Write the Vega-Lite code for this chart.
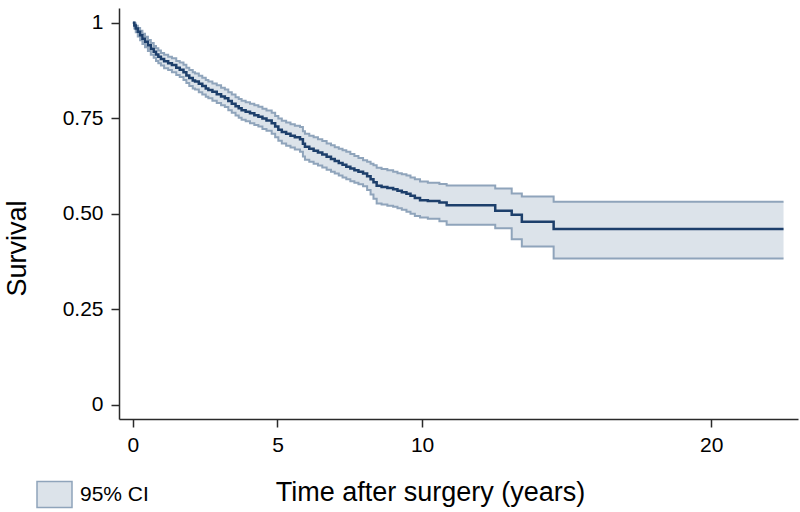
{
  "$schema": "https://vega.github.io/schema/vega-lite/v6.json",
  "width": 679,
  "height": 411,
  "autosize": "none",
  "padding": {"left": 119, "top": 8, "right": 2, "bottom": 93},
  "background": "white",
  "config": {
    "view": {"stroke": null},
    "font": "Liberation Sans",
    "axis": {
      "grid": false,
      "domainColor": "#2a2a2a",
      "domainWidth": 1.5,
      "tickColor": "#2a2a2a",
      "tickWidth": 1.5,
      "tickSize": 8,
      "labelColor": "#000000",
      "labelFont": "Liberation Sans",
      "labelFontSize": 21,
      "titleFont": "Liberation Sans",
      "titleFontSize": 27,
      "titleFontWeight": "normal",
      "titleColor": "#000000"
    }
  },
  "data": {
    "values": [
      {"t": 0.00, "s": 1.000, "lo": 1.000, "hi": 1.000},
      {"t": 0.05, "s": 0.993, "lo": 0.985, "hi": 0.998},
      {"t": 0.10, "s": 0.985, "lo": 0.975, "hi": 0.992},
      {"t": 0.17, "s": 0.976, "lo": 0.964, "hi": 0.986},
      {"t": 0.25, "s": 0.967, "lo": 0.954, "hi": 0.979},
      {"t": 0.33, "s": 0.958, "lo": 0.944, "hi": 0.971},
      {"t": 0.42, "s": 0.950, "lo": 0.936, "hi": 0.963},
      {"t": 0.52, "s": 0.941, "lo": 0.926, "hi": 0.955},
      {"t": 0.62, "s": 0.932, "lo": 0.916, "hi": 0.947},
      {"t": 0.72, "s": 0.924, "lo": 0.908, "hi": 0.939},
      {"t": 0.80, "s": 0.917, "lo": 0.900, "hi": 0.933},
      {"t": 0.88, "s": 0.911, "lo": 0.894, "hi": 0.927},
      {"t": 0.97, "s": 0.905, "lo": 0.888, "hi": 0.921},
      {"t": 1.08, "s": 0.899, "lo": 0.881, "hi": 0.916},
      {"t": 1.22, "s": 0.894, "lo": 0.876, "hi": 0.911},
      {"t": 1.35, "s": 0.889, "lo": 0.870, "hi": 0.907},
      {"t": 1.50, "s": 0.882, "lo": 0.863, "hi": 0.900},
      {"t": 1.62, "s": 0.877, "lo": 0.858, "hi": 0.896},
      {"t": 1.75, "s": 0.870, "lo": 0.850, "hi": 0.890},
      {"t": 1.85, "s": 0.862, "lo": 0.842, "hi": 0.882},
      {"t": 1.95, "s": 0.855, "lo": 0.834, "hi": 0.876},
      {"t": 2.07, "s": 0.849, "lo": 0.828, "hi": 0.870},
      {"t": 2.15, "s": 0.846, "lo": 0.825, "hi": 0.867},
      {"t": 2.28, "s": 0.840, "lo": 0.818, "hi": 0.861},
      {"t": 2.40, "s": 0.834, "lo": 0.812, "hi": 0.856},
      {"t": 2.52, "s": 0.828, "lo": 0.806, "hi": 0.850},
      {"t": 2.61, "s": 0.824, "lo": 0.802, "hi": 0.846},
      {"t": 2.75, "s": 0.819, "lo": 0.796, "hi": 0.841},
      {"t": 2.90, "s": 0.813, "lo": 0.790, "hi": 0.836},
      {"t": 3.05, "s": 0.807, "lo": 0.784, "hi": 0.830},
      {"t": 3.18, "s": 0.802, "lo": 0.779, "hi": 0.825},
      {"t": 3.30, "s": 0.795, "lo": 0.771, "hi": 0.818},
      {"t": 3.42, "s": 0.788, "lo": 0.764, "hi": 0.812},
      {"t": 3.55, "s": 0.781, "lo": 0.757, "hi": 0.805},
      {"t": 3.66, "s": 0.776, "lo": 0.751, "hi": 0.800},
      {"t": 3.76, "s": 0.771, "lo": 0.746, "hi": 0.796},
      {"t": 3.90, "s": 0.767, "lo": 0.742, "hi": 0.792},
      {"t": 4.05, "s": 0.763, "lo": 0.737, "hi": 0.788},
      {"t": 4.20, "s": 0.758, "lo": 0.732, "hi": 0.784},
      {"t": 4.34, "s": 0.754, "lo": 0.728, "hi": 0.780},
      {"t": 4.48, "s": 0.749, "lo": 0.722, "hi": 0.775},
      {"t": 4.62, "s": 0.744, "lo": 0.717, "hi": 0.770},
      {"t": 4.80, "s": 0.737, "lo": 0.709, "hi": 0.764},
      {"t": 4.92, "s": 0.728, "lo": 0.700, "hi": 0.756},
      {"t": 5.03, "s": 0.720, "lo": 0.691, "hi": 0.749},
      {"t": 5.15, "s": 0.714, "lo": 0.684, "hi": 0.743},
      {"t": 5.30, "s": 0.709, "lo": 0.678, "hi": 0.739},
      {"t": 5.45, "s": 0.704, "lo": 0.673, "hi": 0.734},
      {"t": 5.60, "s": 0.700, "lo": 0.668, "hi": 0.730},
      {"t": 5.78, "s": 0.695, "lo": 0.662, "hi": 0.727},
      {"t": 5.88, "s": 0.683, "lo": 0.650, "hi": 0.716},
      {"t": 5.95, "s": 0.675, "lo": 0.641, "hi": 0.709},
      {"t": 6.10, "s": 0.670, "lo": 0.636, "hi": 0.704},
      {"t": 6.25, "s": 0.665, "lo": 0.631, "hi": 0.700},
      {"t": 6.40, "s": 0.660, "lo": 0.626, "hi": 0.695},
      {"t": 6.55, "s": 0.655, "lo": 0.621, "hi": 0.690},
      {"t": 6.70, "s": 0.649, "lo": 0.615, "hi": 0.684},
      {"t": 6.85, "s": 0.643, "lo": 0.610, "hi": 0.679},
      {"t": 6.98, "s": 0.638, "lo": 0.605, "hi": 0.674},
      {"t": 7.12, "s": 0.633, "lo": 0.600, "hi": 0.670},
      {"t": 7.25, "s": 0.628, "lo": 0.595, "hi": 0.666},
      {"t": 7.38, "s": 0.623, "lo": 0.590, "hi": 0.662},
      {"t": 7.52, "s": 0.618, "lo": 0.585, "hi": 0.656},
      {"t": 7.66, "s": 0.614, "lo": 0.581, "hi": 0.651},
      {"t": 7.80, "s": 0.610, "lo": 0.577, "hi": 0.646},
      {"t": 7.96, "s": 0.605, "lo": 0.572, "hi": 0.640},
      {"t": 8.10, "s": 0.598, "lo": 0.562, "hi": 0.636},
      {"t": 8.22, "s": 0.590, "lo": 0.550, "hi": 0.631},
      {"t": 8.32, "s": 0.582, "lo": 0.539, "hi": 0.627},
      {"t": 8.43, "s": 0.573, "lo": 0.527, "hi": 0.620},
      {"t": 8.60, "s": 0.570, "lo": 0.524, "hi": 0.617},
      {"t": 8.80, "s": 0.567, "lo": 0.521, "hi": 0.614},
      {"t": 9.00, "s": 0.564, "lo": 0.518, "hi": 0.610},
      {"t": 9.15, "s": 0.560, "lo": 0.514, "hi": 0.606},
      {"t": 9.30, "s": 0.556, "lo": 0.510, "hi": 0.603},
      {"t": 9.46, "s": 0.552, "lo": 0.505, "hi": 0.600},
      {"t": 9.60, "s": 0.547, "lo": 0.500, "hi": 0.595},
      {"t": 9.75, "s": 0.541, "lo": 0.494, "hi": 0.590},
      {"t": 9.93, "s": 0.535, "lo": 0.490, "hi": 0.584},
      {"t": 10.20, "s": 0.533, "lo": 0.487, "hi": 0.581},
      {"t": 10.60, "s": 0.529, "lo": 0.480, "hi": 0.578},
      {"t": 10.85, "s": 0.522, "lo": 0.471, "hi": 0.574},
      {"t": 12.53, "s": 0.508, "lo": 0.462, "hi": 0.566},
      {"t": 13.10, "s": 0.497, "lo": 0.433, "hi": 0.553},
      {"t": 13.45, "s": 0.479, "lo": 0.414, "hi": 0.545},
      {"t": 14.55, "s": 0.460, "lo": 0.383, "hi": 0.531},
      {"t": 22.50, "s": 0.460, "lo": 0.383, "hi": 0.531}
    ]
  },
  "encoding": {
    "x": {
      "field": "t",
      "type": "quantitative",
      "scale": {"domain": [-0.48, 23.0], "nice": false, "zero": false},
      "axis": {
        "title": "Time after surgery (years)",
        "values": [0, 5, 10, 20],
        "format": "d",
        "labelPadding": 7,
        "titleX": 311,
        "titleY": 81,
        "titleBaseline": "alphabetic",
        "titleAlign": "center",
        "titleAnchor": null
      }
    }
  },
  "layer": [
    {
      "mark": {"type": "area", "interpolate": "step-after"},
      "encoding": {
        "y": {
          "field": "lo",
          "type": "quantitative",
          "scale": {"domain": [-0.0375, 1.0385], "nice": false, "zero": false},
          "axis": {
            "title": "Survival",
            "values": [0, 0.25, 0.5, 0.75, 1],
            "labelExpr": "datum.value == 0 ? '0' : datum.value == 1 ? '1' : format(datum.value, '.2f')",
            "labelPadding": 8,
            "titleAngle": -90,
            "titleX": -94,
            "titleY": 240,
            "titleBaseline": "alphabetic",
            "titleAlign": "center",
            "titleAnchor": null
          }
        },
        "y2": {"field": "hi"},
        "fill": {
          "datum": "95% CI",
          "type": "nominal",
          "scale": {"range": ["#dce3ea"]},
          "legend": {
            "title": null,
            "orient": "none",
            "legendX": -83,
            "legendY": 468,
            "padding": 0,
            "symbolType": "M-1,-0.743L1,-0.743L1,0.743L-1,0.743Z",
            "symbolSize": 1225,
            "symbolFillColor": "#dce3ea",
            "symbolStrokeColor": "#8fa4bb",
            "symbolStrokeWidth": 1.5,
            "symbolOpacity": 1,
            "labelFont": "Liberation Sans",
            "labelFontSize": 21,
            "labelColor": "#000000",
            "labelOffset": 7
          }
        }
      }
    },
    {
      "mark": {"type": "line", "interpolate": "step-after", "stroke": "#8fa4bb", "strokeWidth": 2},
      "encoding": {"y": {"field": "hi", "type": "quantitative"}}
    },
    {
      "mark": {"type": "line", "interpolate": "step-after", "stroke": "#8fa4bb", "strokeWidth": 2},
      "encoding": {"y": {"field": "lo", "type": "quantitative"}}
    },
    {
      "mark": {"type": "line", "interpolate": "step-after", "stroke": "#1d3f6b", "strokeWidth": 2.5},
      "encoding": {"y": {"field": "s", "type": "quantitative"}}
    }
  ]
}
